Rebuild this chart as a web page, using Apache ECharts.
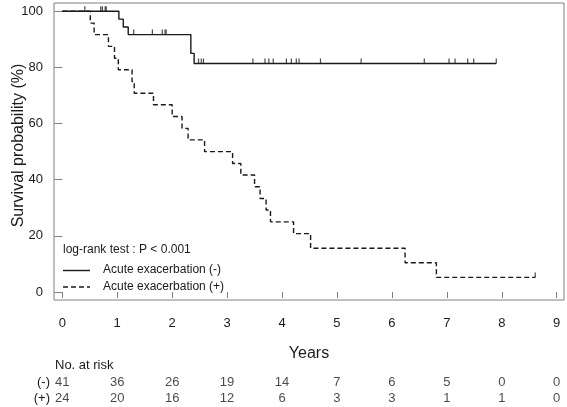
<!DOCTYPE html>
<html><head><meta charset="utf-8">
<script src="https://cdn.jsdelivr.net/npm/echarts@6/dist/echarts.min.js"></script>
<style>html,body{margin:0;padding:0;background:#fff}#c{width:567px;height:407px}</style>
</head><body><div id="c"></div>
<script>
const yearTicks = [0,1,2,3,4,5,6,7,8,9];
const survTicks = [0,20,40,60,80,100];
const riskGroups = ['(-)','(+)'];
const riskNeg = [41,36,26,19,14,7,6,5,0,0];
const riskPos = [24,20,16,12,6,3,3,1,1,0];

// Acute exacerbation (-) : step points (time in years, survival %)
const negTimes = [0, 1.03, 1.11, 1.20, 2.34, 2.40, 7.90];
const negSurv  = [100, 97.2, 94.4, 91.7, 85.0, 81.4, 81.4];
const negCensorTimes = [0.41,0.70,0.73,0.78,0.80,1.30,1.64,1.82,1.87,1.89,2.48,2.53,2.57,3.47,3.69,3.76,3.84,4.08,4.17,4.26,4.31,4.70,5.44,6.59,7.04,7.15,7.38,7.49,7.90];
const negCensorSurv  = [100,100,100,100,100,91.7,91.7,91.7,91.7,91.7,81.4,81.4,81.4,81.4,81.4,81.4,81.4,81.4,81.4,81.4,81.4,81.4,81.4,81.4,81.4,81.4,81.4,81.4,81.4];

// Acute exacerbation (+)
const posTimes = [0,0.51,0.58,0.84,0.95,1.02,1.27,1.31,1.66,2.00,2.18,2.29,2.59,3.10,3.25,3.50,3.60,3.71,3.79,4.21,4.52,6.24,6.81,8.61];
const posSurv  = [100,95.8,91.7,87.5,83.3,79.2,75.0,70.8,66.7,62.5,58.3,54.2,50.0,45.8,41.7,37.5,33.3,29.2,25.0,20.8,15.6,10.4,5.2,5.2];
const posCensorTimes = [8.61];
const posCensorSurv  = [5.2];

const zip = (a,b) => a.map((v,i)=>[v,b[i]]);
const FONT = 'Liberation Sans, Arial, sans-serif';
const TXT = '#1a1a1a';
const LINE = '#1a1a1a';
const XMIN = -0.151, XMAX = 9.133;

const chart = echarts.init(document.getElementById('c'), null, {renderer:'canvas'});
chart.setOption({
  animation:false,
  backgroundColor:'#fff',
  textStyle:{fontFamily:FONT},
  grid:[
    {left:54, top:3, right:3, bottom:107, show:true, borderColor:'#808080', borderWidth:1, backgroundColor:'transparent', containLabel:false, outerBoundsMode:'none'},
    {left:54, top:375, right:3, height:31.2, show:false, containLabel:false, outerBoundsMode:'none'}
  ],
  xAxis:[
    {type:'value', gridIndex:0, min:XMIN, max:XMAX,
     name:'Years', nameLocation:'middle', nameGap:46, nameMoveOverlap:false,
     nameTextStyle:{fontSize:16, color:TXT, fontFamily:FONT},
     axisLine:{show:false},
     axisTick:{show:true, length:6, customValues:yearTicks, lineStyle:{color:'#808080'}},
     axisLabel:{show:true, customValues:yearTicks, margin:17, fontSize:13, color:TXT, fontFamily:FONT},
     splitLine:{show:false}},
    {type:'value', gridIndex:1, min:XMIN, max:XMAX, show:false}
  ],
  yAxis:[
    {type:'value', gridIndex:0, min:-2.85, max:102.96,
     name:'Survival probability (%)', nameLocation:'middle', nameGap:27, nameMoveOverlap:false,
     nameTextStyle:{fontSize:16, color:TXT, fontFamily:FONT, padding:[0,0,0,12]},
     axisLine:{show:false},
     axisTick:{show:true, length:8, customValues:survTicks, lineStyle:{color:'#808080'}},
     axisLabel:{show:true, customValues:survTicks, margin:11, fontSize:13, color:TXT, fontFamily:FONT},
     splitLine:{show:false}},
    {type:'category', gridIndex:1, data:riskGroups, inverse:true,
     axisLine:{show:false}, axisTick:{show:false},
     axisLabel:{interval:0, margin:4, fontSize:13, color:TXT, fontFamily:FONT, hideOverlap:false}}
  ],
  series:[
    {type:'line', name:'Acute exacerbation (-)', xAxisIndex:0, yAxisIndex:0, step:'end', symbol:'none',
     data:zip(negTimes,negSurv), lineStyle:{color:LINE, width:1.4}},
    {type:'line', name:'Acute exacerbation (+)', xAxisIndex:0, yAxisIndex:0, step:'end', symbol:'none',
     data:zip(posTimes,posSurv), lineStyle:{color:LINE, width:1.4, type:[5,3]}},
    {type:'scatter', xAxisIndex:0, yAxisIndex:0, symbol:'rect', symbolSize:[1.2,5], symbolOffset:[0,'-50%'],
     data:zip(negCensorTimes,negCensorSurv), itemStyle:{color:LINE}},
    {type:'scatter', xAxisIndex:0, yAxisIndex:0, symbol:'rect', symbolSize:[1.2,5], symbolOffset:[0,'-50%'],
     data:zip(posCensorTimes,posCensorSurv), itemStyle:{color:LINE}},
    {type:'scatter', xAxisIndex:1, yAxisIndex:1, symbolSize:0,
     data:yearTicks.map((t,i)=>[t,riskGroups[0],riskNeg[i]]),
     label:{show:true, position:'inside', formatter:p=>String(p.value[2]), fontSize:13, color:TXT, fontFamily:FONT}},
    {type:'scatter', xAxisIndex:1, yAxisIndex:1, symbolSize:0,
     data:yearTicks.map((t,i)=>[t,riskGroups[1],riskPos[i]]),
     label:{show:true, position:'inside', formatter:p=>String(p.value[2]), fontSize:13, color:TXT, fontFamily:FONT}}
  ],
  graphic:[
    {type:'text', left:55, top:359, style:{text:'No. at risk', fontSize:13, fill:TXT, fontFamily:FONT}},
    {type:'text', left:63, top:244, style:{text:'log-rank test : P < 0.001', fontSize:12, fill:TXT, fontFamily:FONT}},
    {type:'line', shape:{x1:63, y1:270.5, x2:90, y2:270.5}, style:{stroke:LINE, lineWidth:1.4}},
    {type:'text', left:103, top:264, style:{text:'Acute exacerbation (-)', fontSize:12, fill:TXT, fontFamily:FONT}},
    {type:'line', shape:{x1:63, y1:287, x2:90, y2:287}, style:{stroke:LINE, lineWidth:1.4, lineDash:[5,3]}},
    {type:'text', left:103, top:280.5, style:{text:'Acute exacerbation (+)', fontSize:12, fill:TXT, fontFamily:FONT}}
  ]
});
</script></body></html>
